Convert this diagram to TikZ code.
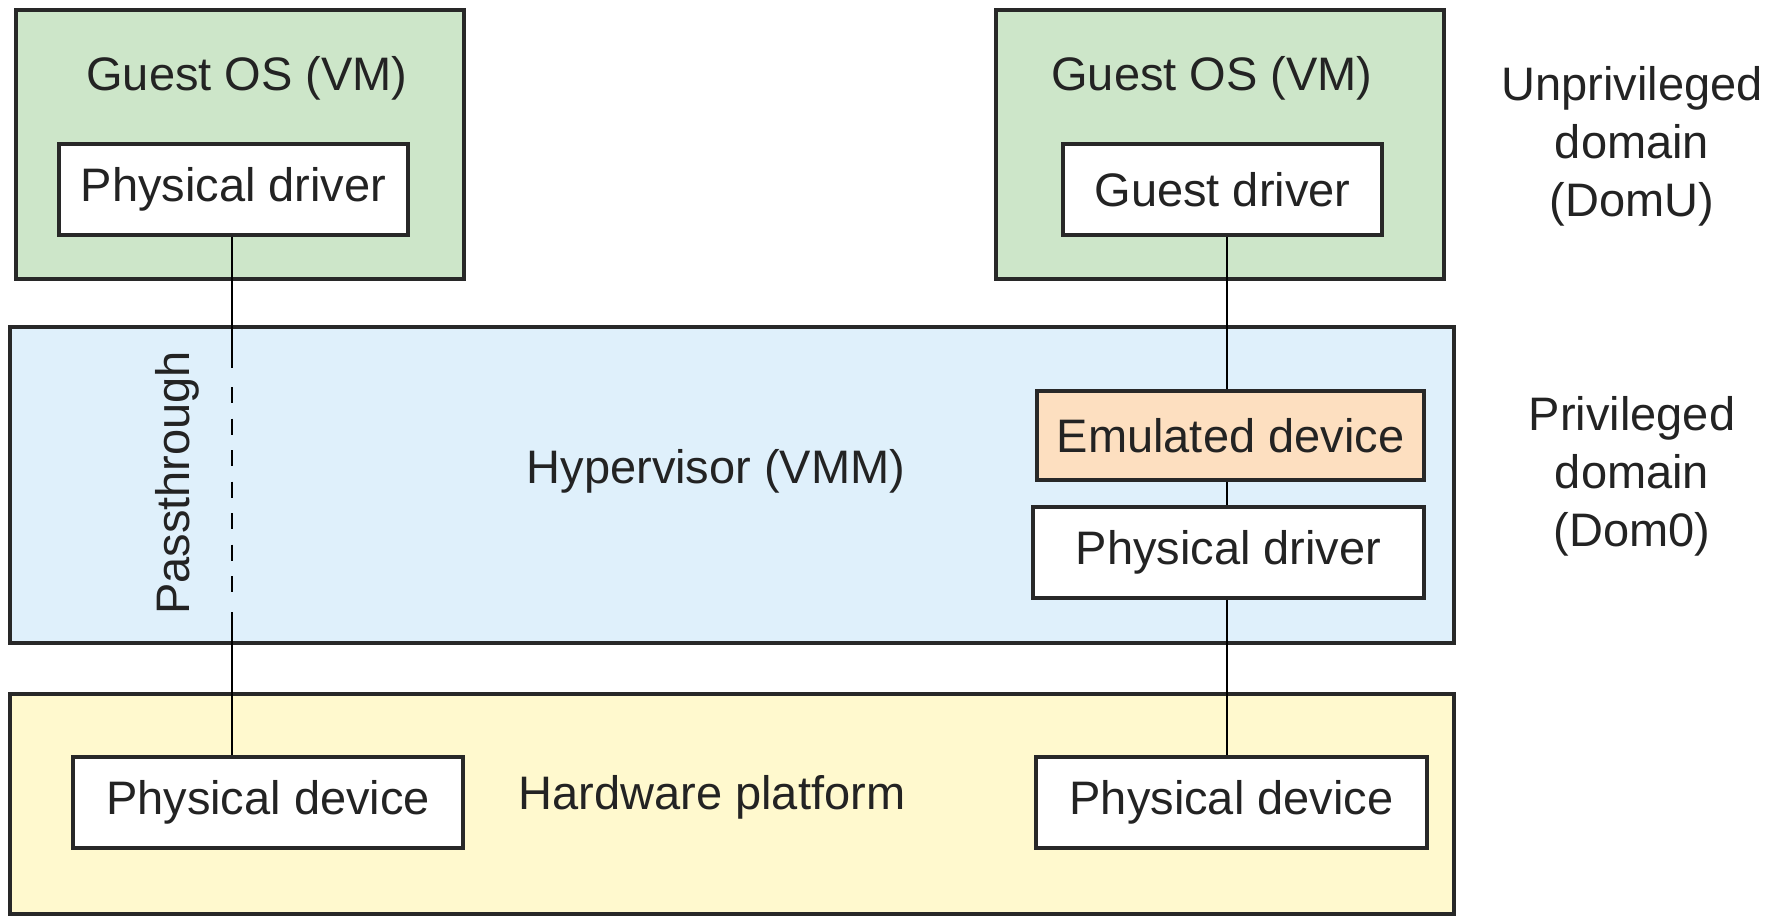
\documentclass[tikz,border=0pt]{standalone}
\usepackage{fontspec}
\setmainfont{Liberation Sans}
\usetikzlibrary{fit}
\definecolor{vmgreen}{RGB}{205,230,201}
\definecolor{hvblue}{RGB}{223,240,251}
\definecolor{hwyellow}{RGB}{255,249,206}
\definecolor{emuorange}{RGB}{253,223,192}
\definecolor{edge}{RGB}{40,40,40}
\definecolor{ink}{RGB}{35,35,35}

\begin{document}
\begin{tikzpicture}[x=0.5pt,y=-0.5pt,
  every node/.style={font=\fontsize{23.5pt}{29pt}\selectfont, text=ink},
  frame/.style={draw=edge, line width=1.7pt, inner sep=0pt},
  layer/.style={frame},
  unit/.style={frame, fill=white},
  conn/.style={draw=black, line width=1pt},
  lbl/.style={align=center, inner sep=0pt}
]
\useasboundingbox (0,0) rectangle (1766,916);

% system layers
\node[layer, fill=hwyellow, fit={(10,694) (1454,914)}] (hw) {};
\node[layer, fill=hvblue, fit={(10,327) (1454,643)}] (hv) {};
\node[layer, fill=vmgreen, fit={(16,10) (464,279)}] (vml) {};
\node[layer, fill=vmgreen, fit={(996,10) (1444,279)}] (vmr) {};

% layer titles
\node (vmlt) at (247,78) {Guest OS (VM)};
\node (vmrt) at (1212,78) {Guest OS (VM)};
\node (hvt) at (716,471) {Hypervisor (VMM)};
\node (hwt) at (712,797) {Hardware platform};
\node[rotate=90] (pt) at (177,483) {Passthrough};

% drivers and devices
\node[unit, fit={(59,144) (408,235)}] (lpd) {};
\node[unit, fit={(1063,144) (1382,235)}] (gdrv) {};
\node[unit, fill=emuorange, fit={(1037,391) (1424,480)}] (emu) {};
\node[unit, fit={(1033,507) (1424,598)}] (rpd) {};
\node[unit, fit={(73,757) (463,848)}] (ldev) {};
\node[unit, fit={(1036,757) (1427,848)}] (rdev) {};
\node (lpdt) at (lpd.center) {Physical driver};
\node (gdrvt) at (gdrv.center) {Guest driver};
\node (emut) at (emu.center) {Emulated device};
\node (rpdt) at (rpd.center) {Physical driver};
\node (ldevt) at (ldev.center) {Physical device};
\node (rdevt) at (rdev.center) {Physical device};

% domain labels
\node[lbl] (domu) at (1632,146) {Unprivileged\\domain\\(DomU)};
\node[lbl] (dom0) at (1632,476) {Privileged\\domain\\(Dom0)};

% passthrough path
\coordinate (lx) at (232,0);
\coordinate (pa) at (232,368);
\coordinate (pb) at (232,387);
\coordinate (pc) at (232,597);
\coordinate (pd) at (232,612);
\draw[conn] (lx |- lpd.south) -- (pa);
\draw[conn, dash pattern=on 8pt off 7.75pt] (pb) -- (pc);
\draw[conn] (pd) -- (lx |- ldev.north);

% emulated path
\coordinate (rx) at (1227,0);
\draw[conn] (rx |- gdrv.south) -- (rx |- emu.north);
\draw[conn] (rx |- emu.south) -- (rx |- rpd.north);
\draw[conn] (rx |- rpd.south) -- (rx |- rdev.north);
\end{tikzpicture}
\end{document}
